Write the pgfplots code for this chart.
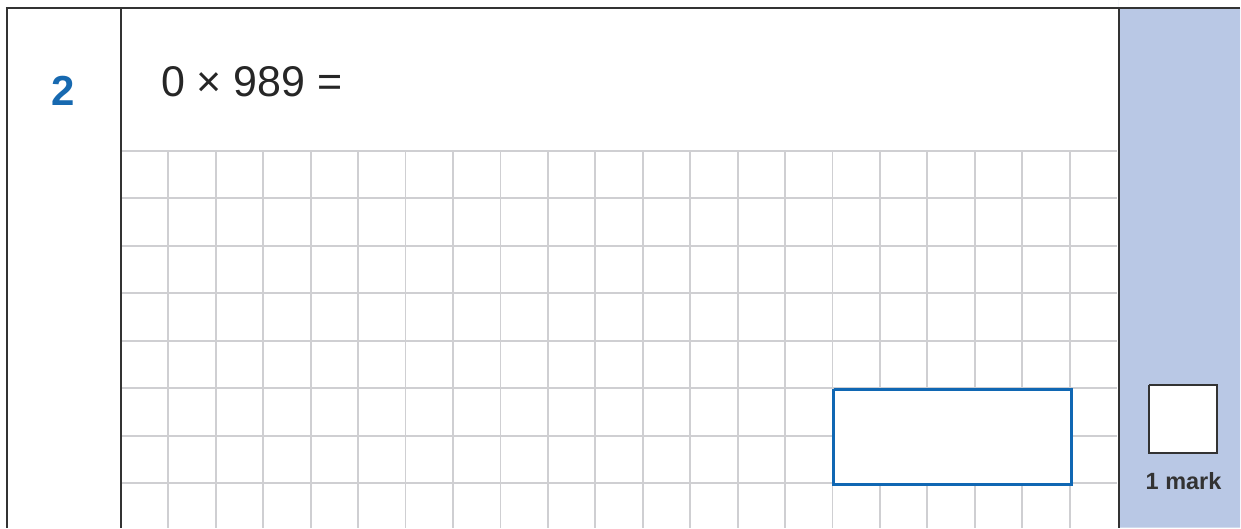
\documentclass[border=0pt]{standalone}
\usepackage{pgfplots}
\pgfplotsset{compat=1.18}
\usepackage{fontspec}
\setmainfont{Liberation Sans}
\definecolor{gridgray}{HTML}{CFCFD2}
\definecolor{panelblue}{HTML}{B9C8E5}
\definecolor{boxblue}{HTML}{1067B3}
\definecolor{numblue}{HTML}{1769B0}
\definecolor{framec}{HTML}{333333}
\begin{document}
\begin{tikzpicture}
\begin{axis}[
  scale only axis, width=1241pt, height=528pt,
  xmin=0, xmax=1241, ymin=0, ymax=528, y dir=reverse,
  hide axis, clip=false, unbounded coords=jump,
]
% background
\addplot[fill=white, draw=none] coordinates {(0,0) (1241,0) (1241,528) (0,528)} \closedcycle;
% right panel
\addplot[fill=panelblue, draw=none] coordinates {(1119,8) (1241,8) (1241,528) (1119,528)} \closedcycle;
% grid: horizontal lines
\addplot[gridgray, line width=1.8pt] coordinates {
(121,151) (1118,151) (nan,nan)
(121,198.5) (1118,198.5) (nan,nan)
(121,246) (1118,246) (nan,nan)
(121,293.5) (1118,293.5) (nan,nan)
(121,341) (1118,341) (nan,nan)
(121,388.5) (1118,388.5) (nan,nan)
(121,436) (1118,436) (nan,nan)
(121,483.5) (1118,483.5)
};
% grid: vertical lines
\addplot[gridgray, line width=1.8pt] coordinates {
(168.5,151) (168.5,528) (nan,nan)
(216,151) (216,528) (nan,nan)
(263.4,151) (263.4,528) (nan,nan)
(310.9,151) (310.9,528) (nan,nan)
(358.4,151) (358.4,528) (nan,nan)
(405.9,151) (405.9,528) (nan,nan)
(453.3,151) (453.3,528) (nan,nan)
(500.8,151) (500.8,528) (nan,nan)
(548.3,151) (548.3,528) (nan,nan)
(595.8,151) (595.8,528) (nan,nan)
(643.2,151) (643.2,528) (nan,nan)
(690.7,151) (690.7,528) (nan,nan)
(738.2,151) (738.2,528) (nan,nan)
(785.7,151) (785.7,528) (nan,nan)
(833.1,151) (833.1,528) (nan,nan)
(880.6,151) (880.6,528) (nan,nan)
(928.1,151) (928.1,528) (nan,nan)
(975.6,151) (975.6,528) (nan,nan)
(1023,151) (1023,528) (nan,nan)
(1070.5,151) (1070.5,528)
};
% answer box
\addplot[fill=white, draw=boxblue, line width=3pt] coordinates {(834.5,389.5) (1072.5,389.5) (1072.5,485) (834.5,485) (834.5,389.5)};
% frame lines
\addplot[framec, line width=2pt] coordinates {(6,8) (1241,8)};
\addplot[framec, line width=2pt] coordinates {(7,8) (7,528)};
\addplot[framec, line width=2pt] coordinates {(121.5,8) (121.5,528)};
\addplot[framec, line width=2.2pt] coordinates {(1119.5,8) (1119.5,528)};
% mark square
\addplot[fill=white, draw=framec, line width=2pt] coordinates {(1150,385) (1218,385) (1218,453) (1150,453) (1150,385)};
% texts
\node[anchor=base, font=\fontsize{42}{42}\selectfont\bfseries, text=numblue, inner sep=0pt] at (axis cs:63.5,106) {2};
\node[anchor=base west, font=\fontsize{43}{43}\selectfont, text=black!85, inner sep=0pt] at (axis cs:161,97) {0 × 989 =};
\node[anchor=base, font=\fontsize{23.5}{23.5}\selectfont\bfseries, text=black!80, inner sep=0pt] at (axis cs:1184.5,490) {1 mark};
\end{axis}
\end{tikzpicture}
\end{document}
